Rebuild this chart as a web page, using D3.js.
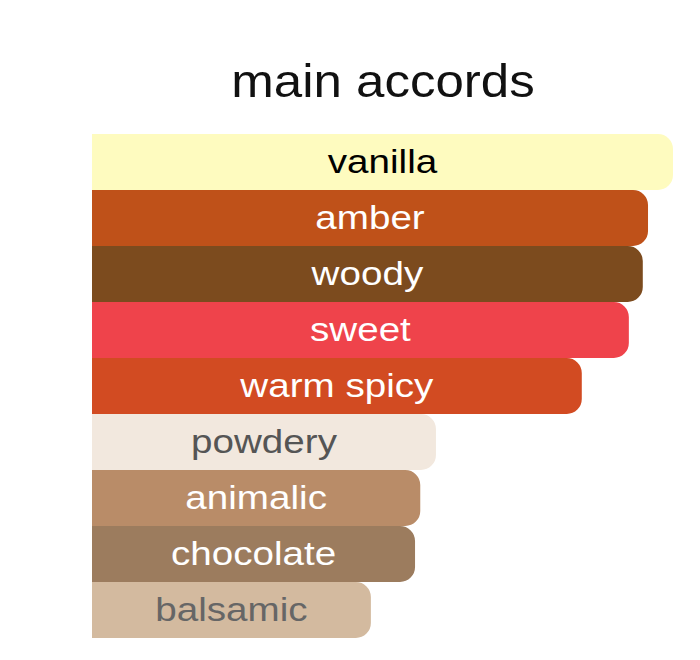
<!DOCTYPE html>
<html>
<head>
<meta charset="utf-8">
<script src="https://cdn.jsdelivr.net/npm/d3@7"></script>
<style>
  body { margin: 0; background: #fff; }
  svg text { font-family: "Liberation Sans", Arial, sans-serif; }
</style>
</head>
<body>
<svg id="chart"></svg>
<script>
// accords, top to bottom
const accords = ['vanilla', 'amber', 'woody', 'sweet', 'warm spicy', 'powdery', 'animalic', 'chocolate', 'balsamic'];
const strengths = [100, 95.7, 94.8, 92.4, 84.3, 59.2, 56.5, 55.6, 48.0];
const barColors = ['#FEFBBF', '#BF5119', '#7C4B1E', '#EF434B', '#D24B22', '#F2E8DE', '#B98C68', '#9C7C5E', '#D3BA9F'];
const textColors = ['#000000', '#ffffff', '#ffffff', '#ffffff', '#ffffff', '#555555', '#ffffff', '#ffffff', '#666666'];

const config = {
    width: 700,
    height: 660,
    margin: {top: 134, right: 27, bottom: 22, left: 92},
    radius: 15,
    stretch: 1.17 // labels are drawn a little wide, like the original
};

const data = accords.map((a, i) => ({name: a, value: strengths[i], fill: barColors[i], text: textColors[i]}));

const svg = d3.select('#chart')
    .attr('width', config.width)
    .attr('height', config.height);

svg.append('text')
    .attr('transform', 'translate(383,97) scale(1.11,1)')
    .attr('text-anchor', 'middle')
    .attr('font-size', 46)
    .attr('fill', '#111')
    .text('main accords');

const innerW = config.width - config.margin.left - config.margin.right;
const innerH = config.height - config.margin.top - config.margin.bottom;

const g = svg.append('g')
    .attr('transform', `translate(${config.margin.left},${config.margin.top})`);

const xScale = d3.scaleLinear().domain([0, 100]).range([0, innerW]);
const yScale = d3.scaleBand().domain(accords).range([0, innerH]).padding(0);

// square on the left, rounded on the right
function barPath(w, h, r) {
    return `M0,0 H${w - r} A${r},${r} 0 0 1 ${w},${r} V${h - r} A${r},${r} 0 0 1 ${w - r},${h} H0 Z`;
}

const rows = g.selectAll('.row')
    .data(data)
    .join('g')
    .attr('class', 'row')
    .attr('transform', d => `translate(0,${yScale(d.name)})`);

rows.append('path')
    .attr('d', d => barPath(xScale(d.value), yScale.bandwidth(), config.radius))
    .attr('fill', d => d.fill);

rows.append('text')
    .attr('transform', d => `translate(${xScale(d.value) / 2},${yScale.bandwidth() / 2 + 11}) scale(${config.stretch},1)`)
    .attr('text-anchor', 'middle')
    .attr('font-size', 33)
    .attr('fill', d => d.text)
    .text(d => d.name);
</script>
</body>
</html>
